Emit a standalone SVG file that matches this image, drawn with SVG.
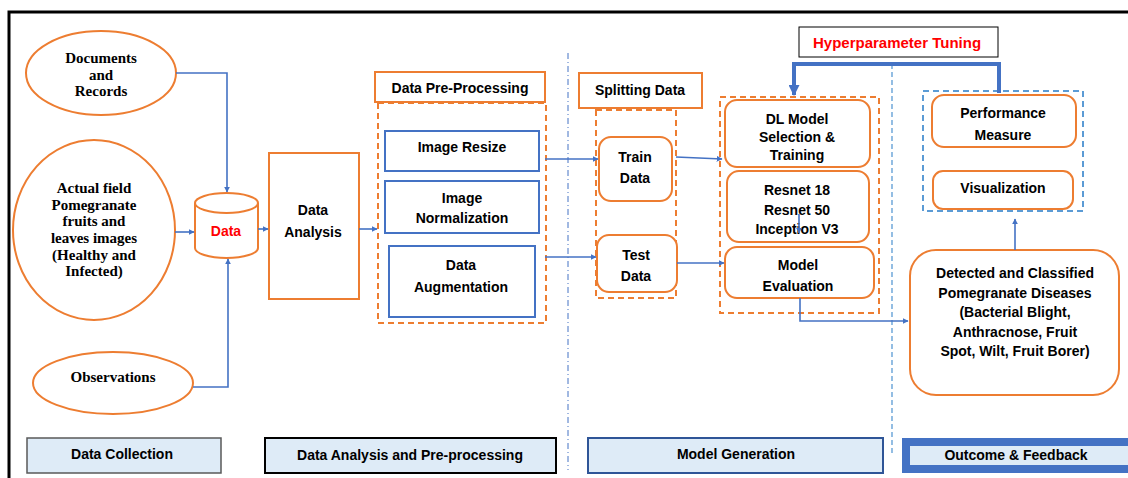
<svg xmlns="http://www.w3.org/2000/svg" width="1128" height="478" viewBox="0 0 1128 478">
<defs>
<style>
.or{fill:#fff;stroke:#ED7D31;stroke-width:2}
.bl{fill:#fff;stroke:#4472C4;stroke-width:2}
.dor{fill:none;stroke:#ED7D31;stroke-width:2;stroke-dasharray:6 4}
.dbl{fill:none;stroke:#5B9BD5;stroke-width:2;stroke-dasharray:6 4}
.con{fill:none;stroke:#4472C4;stroke-width:1.6}
.serif{font-family:"Liberation Serif","Times New Roman",serif;font-weight:bold;font-size:15px;fill:#000;text-anchor:middle}
.t{font-family:"Liberation Sans",Arial,sans-serif;font-weight:bold;font-size:14px;fill:#000;text-anchor:middle}
.lab{fill:#DEEBF7}
</style>
<marker id="ah" viewBox="0 0 10 10" refX="9" refY="5" markerWidth="6" markerHeight="6" orient="auto" markerUnits="userSpaceOnUse">
<path d="M0,0 L10,5 L0,10 z" fill="#4472C4"/>
</marker>
<marker id="ahs" viewBox="0 0 10 10" refX="9" refY="5" markerWidth="11" markerHeight="11" orient="auto" markerUnits="userSpaceOnUse">
<path d="M0,0 L10,5 L0,10 z" fill="#4472C4"/>
</marker>
</defs>
<rect width="1128" height="478" fill="#fff"/>
<!-- frame -->
<path d="M9,478 V12 H1128" fill="none" stroke="#000" stroke-width="3"/>

<!-- section dividers -->
<line x1="568" y1="53" x2="568" y2="470" stroke="#4472C4" stroke-width="1" stroke-dasharray="6 3 1 3"/>
<line x1="892" y1="64" x2="892" y2="455" stroke="#5B9BD5" stroke-width="1.3" stroke-dasharray="5 3"/>

<!-- containers -->
<g id="preproc-container"><rect class="dor" x="378" y="103" width="168" height="220"/></g>
<g id="split-container"><rect class="dor" x="596" y="110" width="80" height="188"/></g>
<g id="model-container"><rect class="dor" x="720" y="97" width="159" height="216"/></g>
<g id="outcome-container"><rect class="dbl" x="923" y="91" width="160" height="120"/></g>

<!-- nodes -->
<g id="documents"><ellipse class="or" cx="101" cy="73" rx="75" ry="42"/>
<text class="serif" x="101" y="63">Documents</text><text class="serif" x="101" y="80">and</text><text class="serif" x="101" y="96">Records</text></g>

<g id="actual-field"><ellipse class="or" cx="94" cy="230" rx="81" ry="90"/>
<text class="serif" x="94" y="193">Actual field</text>
<text class="serif" x="94" y="210">Pomegranate</text>
<text class="serif" x="94" y="226">fruits and</text>
<text class="serif" x="94" y="243">leaves images</text>
<text class="serif" x="94" y="260">(Healthy and</text>
<text class="serif" x="94" y="276">Infected)</text></g>

<g id="observations"><ellipse class="or" cx="113" cy="383" rx="80" ry="31"/>
<text class="serif" x="113" y="382">Observations</text></g>

<g id="data"><path class="or" d="M195,203 A31.5,10 0 0 1 258,203 V248 A31.5,10 0 0 1 195,248 Z"/>
<path d="M195,203 A31.5,10 0 0 0 258,203" fill="none" stroke="#ED7D31" stroke-width="2"/>
<text class="t" x="226" y="236" style="fill:#FF0000">Data</text></g>

<g id="data-analysis"><rect class="or" x="269" y="153" width="90" height="146"/>
<text class="t" x="313" y="215">Data</text><text class="t" x="313" y="237">Analysis</text></g>

<g id="preproc-header"><rect class="or" x="375" y="72" width="170" height="30"/>
<text class="t" x="460" y="93">Data Pre-Processing</text></g>

<g id="image-resize"><rect class="bl" x="385" y="131" width="154" height="40"/>
<text class="t" x="462" y="152">Image Resize</text></g>
<g id="image-norm"><rect class="bl" x="385" y="181" width="154" height="52"/>
<text class="t" x="462" y="203">Image</text><text class="t" x="462" y="223">Normalization</text></g>
<g id="data-aug"><rect class="bl" x="389" y="246" width="146" height="71"/>
<text class="t" x="461" y="270">Data</text><text class="t" x="461" y="292">Augmentation</text></g>

<g id="split-header"><rect class="or" x="579" y="73" width="123" height="35"/>
<text class="t" x="640" y="95">Splitting Data</text></g>
<g id="train"><rect class="or" x="599" y="137" width="73" height="64" rx="12"/>
<text class="t" x="635" y="162">Train</text><text class="t" x="635" y="183">Data</text></g>
<g id="test"><rect class="or" x="597" y="235" width="80" height="57" rx="12"/>
<text class="t" x="636" y="260">Test</text><text class="t" x="636" y="281">Data</text></g>

<g id="dl-model"><rect class="or" x="725" y="100" width="145" height="67" rx="12"/>
<text class="t" x="797" y="124">DL Model</text><text class="t" x="797" y="142">Selection &amp;</text><text class="t" x="797" y="160">Training</text></g>
<g id="resnet"><rect class="or" x="727" y="171" width="142" height="71" rx="12"/>
<text class="t" x="797" y="195">Resnet 18</text><text class="t" x="797" y="215">Resnet 50</text><text class="t" x="797" y="234">Inception V3</text></g>
<g id="model-eval"><rect class="or" x="725" y="247" width="149" height="51" rx="12"/>
<text class="t" x="798" y="270">Model</text><text class="t" x="798" y="291">Evaluation</text></g>

<g id="hyper"><rect x="799" y="27" width="199" height="30" fill="#fff" stroke="#000" stroke-width="1"/>
<text class="t" x="897" y="48" style="fill:#FF0000;font-size:15px">Hyperparameter Tuning</text></g>

<g id="perf"><rect class="or" x="932" y="95" width="144" height="52" rx="12"/>
<text class="t" x="1003" y="118">Performance</text><text class="t" x="1003" y="140">Measure</text></g>
<g id="vis"><rect class="or" x="933" y="171" width="140" height="38" rx="10"/>
<text class="t" x="1003" y="193">Visualization</text></g>

<g id="detected"><rect class="or" x="910" y="250" width="209" height="145" rx="26"/>
<text class="t" x="1015" y="278">Detected  and Classified</text>
<text class="t" x="1015" y="298">Pomegranate Diseases</text>
<text class="t" x="1015" y="317">(Bacterial  Blight,</text>
<text class="t" x="1015" y="337">Anthracnose, Fruit</text>
<text class="t" x="1015" y="356">Spot, Wilt, Fruit Borer)</text></g>

<!-- stage labels -->
<g id="lbl-collection"><rect class="lab" x="27" y="438" width="194" height="35" stroke="#595959" stroke-width="1.5"/>
<text class="t" x="122" y="459">Data Collection</text></g>
<g id="lbl-analysis"><rect class="lab" x="265" y="438" width="291" height="35" stroke="#000" stroke-width="2"/>
<text class="t" x="410" y="460">Data Analysis and Pre-processing</text></g>
<g id="lbl-model"><rect class="lab" x="588" y="438" width="295" height="35" stroke="#2F5597" stroke-width="2"/>
<text class="t" x="736" y="459">Model Generation</text></g>
<g id="lbl-outcome"><rect class="lab" x="906" y="442" width="226" height="27" stroke="#4472C4" stroke-width="8"/>
<text class="t" x="1016" y="460">Outcome &amp; Feedback</text></g>

<!-- connectors -->
<g id="connectors">
<path class="con" d="M176,73 H227 V192" marker-end="url(#ah)"/>
<path class="con" d="M175,232 H194" marker-end="url(#ah)"/>
<path class="con" d="M193,387 H228 V259" marker-end="url(#ah)"/>
<path class="con" d="M258,229 H268" marker-end="url(#ah)"/>
<path class="con" d="M359,229 H377" marker-end="url(#ah)"/>
<path class="con" d="M545,159 H598" marker-end="url(#ah)"/>
<path class="con" d="M545,257 H596" marker-end="url(#ah)"/>
<path class="con" d="M676,157 L722,159" marker-end="url(#ah)"/>
<path class="con" d="M677,263 H724" marker-end="url(#ah)"/>
<path class="con" d="M799,214 V233" marker-end="url(#ah)"/>
<path class="con" d="M800,298 V321 H908" marker-end="url(#ah)"/>
<path class="con" d="M1015,250 V219" stroke-width="1" marker-end="url(#ah)"/>
<path d="M999,93 V64 H794 V95" fill="none" stroke="#4472C4" stroke-width="4" marker-end="url(#ahs)"/>
</g>
</svg>
